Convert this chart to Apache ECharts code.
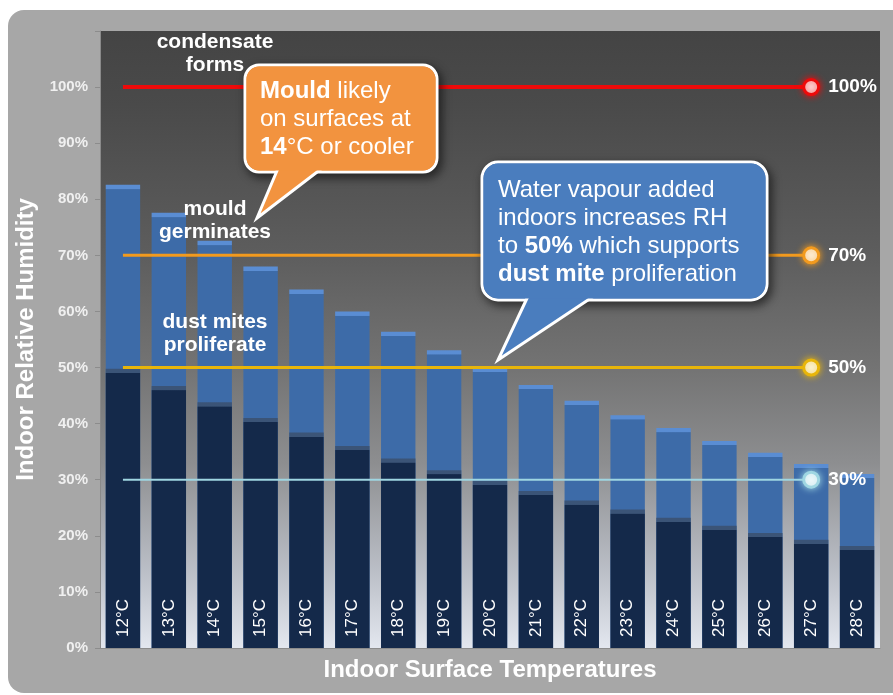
<!DOCTYPE html>
<html>
<head>
<meta charset="utf-8">
<script src="https://cdn.jsdelivr.net/npm/echarts/dist/echarts.min.js"></script>
<style>
html,body{margin:0;padding:0;background:#ffffff;}
#c{width:893px;height:695px;}
</style>
</head>
<body>
<div id="c"></div>
<script>
// ---------- data ----------
const categories = ['12°C','13°C','14°C','15°C','16°C','17°C','18°C','19°C','20°C','21°C','22°C','23°C','24°C','25°C','26°C','27°C','28°C'];
// surface RH when indoor air is at 50% RH (light bars, total height)
const rhIndoor50 = [82.6, 77.6, 72.6, 68.0, 63.9, 60.0, 56.4, 53.1, 50.0, 46.9, 44.1, 41.5, 39.2, 36.9, 34.8, 32.8, 31.0];
// surface RH when indoor air is at 30% RH (dark bars)
const rhIndoor30 = [49.8, 46.7, 43.8, 41.0, 38.4, 36.0, 33.8, 31.7, 29.8, 28.0, 26.3, 24.7, 23.2, 21.8, 20.5, 19.3, 18.2];
// threshold lines
const thresholdValues = [100, 70, 50, 30];
const thresholdStart = '12°C';
const thresholdEnd = '27°C';
const yTickValues = [0, 10, 20, 30, 40, 50, 60, 70, 80, 90, 100];

// ---------- styles ----------
const FONT = '"Liberation Sans", Arial, Helvetica, sans-serif';
const thresholdColors = ['#ee0a0a', '#f29a1e', '#e8b50a', '#9fd6e2'];
const thresholdWidths = [4, 3, 3, 2];
const PX_PER_UNIT = 5.61;

function capGradient(v, cap, main) {
  const f = Math.min(0.5, 4 / (v * PX_PER_UNIT));
  return new echarts.graphic.LinearGradient(0, 0, 0, 1, [
    {offset: 0, color: cap},
    {offset: f, color: cap},
    {offset: Math.min(1, f + 0.002), color: main},
    {offset: 1, color: main}
  ]);
}

const lightData = rhIndoor50.map(v => ({value: v, itemStyle: {color: capGradient(v, '#5a8dd3', '#3d6ba8')}}));
const darkData = rhIndoor30.map(v => ({value: v, itemStyle: {color: capGradient(v, '#3b5477', '#14294a')}}));

const lineSeries = thresholdValues.map((t, i) => ({
  type: 'line',
  data: [[thresholdStart, t], [thresholdEnd, t]],
  lineStyle: {color: thresholdColors[i], width: thresholdWidths[i]},
  symbol: 'circle',
  showAllSymbol: true,
  symbolSize: (val, p) => p.dataIndex === 1 ? 15 : 0,
  itemStyle: {color: '#ffffff', borderColor: thresholdColors[i], borderWidth: 3, shadowBlur: 7, shadowColor: thresholdColors[i]},
  label: {
    show: true,
    position: 'right',
    distance: 8,
    formatter: p => p.dataIndex === 1 ? p.value[1] + '%' : '',
    color: '#ffffff',
    fontWeight: 'bold',
    fontSize: 19,
    fontFamily: FONT
  },
  silent: true,
  z: 5
}));

function calloutShapes(box, tail, fill) {
  return [
    {type: 'rect', z: 100, silent: true,
     shape: {x: box.x, y: box.y, width: box.w, height: box.h, r: box.r},
     style: {fill: fill, stroke: '#ffffff', lineWidth: 3, shadowBlur: 10, shadowOffsetX: 3, shadowOffsetY: 4, shadowColor: 'rgba(0,0,0,0.55)'}},
    {type: 'polygon', z: 101, silent: true,
     shape: {points: tail},
     style: {fill: fill, stroke: '#ffffff', lineWidth: 3, lineJoin: 'miter'}},
    {type: 'rect', z: 102, silent: true,
     shape: {x: box.x + 1.5, y: box.y + 1.5, width: box.w - 3, height: box.h - 3, r: box.r - 1},
     style: {fill: fill}}
  ];
}

function annot(text, x, y) {
  return {type: 'text', z: 60, silent: true, x: x, y: y,
    style: {text: text, fill: '#ffffff', font: 'bold 21px ' + FONT,
      align: 'center', verticalAlign: 'middle', textAlign: 'center', textVerticalAlign: 'middle', lineHeight: 23}};
}

const richN = {font: '24px ' + FONT, fill: '#ffffff', lineHeight: 28};
const richB = {font: 'bold 24px ' + FONT, fill: '#ffffff', lineHeight: 28};

const chart = echarts.init(document.getElementById('c'), null, {renderer: 'canvas'});
chart.setOption({
  animation: false,
  backgroundColor: '#ffffff',
  textStyle: {fontFamily: FONT},
  grid: {
    left: 100, right: 13, top: 31, bottom: 47,
    show: true, borderWidth: 0,
    backgroundColor: new echarts.graphic.LinearGradient(0, 0, 0, 1, [
      {offset: 0, color: '#444444'},
      {offset: 0.12, color: '#4a4a4a'},
      {offset: 0.36, color: '#5d5d5d'},
      {offset: 0.55, color: '#747474'},
      {offset: 0.70, color: '#8d8e90'},
      {offset: 0.88, color: '#bcc0c8'},
      {offset: 1, color: '#e3e7ef'}
    ])
  },
  xAxis: {
    type: 'category',
    data: categories,
    axisLabel: {show: false},
    axisTick: {show: false},
    axisLine: {show: true, lineStyle: {color: '#8c8c8c', width: 1}},
    name: 'Indoor Surface Temperatures',
    nameLocation: 'middle',
    nameGap: 22,
    nameTextStyle: {color: '#ffffff', fontSize: 24, fontWeight: 'bold', fontFamily: FONT, verticalAlign: 'middle'}
  },
  yAxis: {
    type: 'value',
    min: 0, max: 110, interval: 10,
    splitLine: {show: false},
    axisLine: {show: true, lineStyle: {color: '#8a8a8a', width: 1}},
    axisTick: {show: true, length: 5, lineStyle: {color: '#8c8c8c'}},
    axisLabel: {
      margin: 12,
      color: '#f0f0f0',
      fontSize: 15,
      fontWeight: 'bold',
      fontFamily: FONT,
      formatter: v => yTickValues.indexOf(v) >= 0 ? v + '%' : ''
    },
    name: 'Indoor Relative Humidity',
    nameLocation: 'middle',
    nameGap: 68,
    nameTextStyle: {color: '#ffffff', fontSize: 24, fontWeight: 'bold', fontFamily: FONT, verticalAlign: 'middle'}
  },
  series: [
    {
      name: 'RH at 50% indoor',
      type: 'bar',
      data: lightData,
      barCategoryGap: '25%',
      barGap: '-100%',
      silent: true,
      z: 2
    },
    {
      name: 'RH at 30% indoor',
      type: 'bar',
      data: darkData,
      barCategoryGap: '25%',
      barGap: '-100%',
      silent: true,
      z: 3,
      label: {
        show: true,
        position: 'insideBottom',
        distance: 11,
        rotate: 90,
        align: 'left',
        verticalAlign: 'middle',
        formatter: '{b}',
        color: '#ffffff',
        fontSize: 17,
        fontFamily: FONT
      }
    }
  ].concat(lineSeries),
  graphic: [
    {type: 'rect', z: -100, silent: true, shape: {x: 8, y: 10, width: 920, height: 683, r: 16}, style: {fill: '#a7a7a7'}},
    annot('condensate\nforms', 215, 54),
    annot('mould\ngerminates', 215, 221),
    annot('dust mites\nproliferate', 215, 334)
  ]
  .concat(calloutShapes({x: 245, y: 65, w: 192, h: 107, r: 14}, [[279, 166], [257, 218], [325, 166]], '#f2933f'))
  .concat([{type: 'text', z: 110, silent: true, x: 260, y: 77,
    style: {text: '{b|Mould}{n| likely}\n{n|on surfaces at}\n{b|14}{n|°C or cooler}', rich: {n: richN, b: richB},
      align: 'left', verticalAlign: 'top', textAlign: 'left', textVerticalAlign: 'top'}}])
  .concat(calloutShapes({x: 482, y: 162, w: 285, h: 138, r: 16}, [[529, 294], [498, 360], [597, 294]], '#4a7dbe'))
  .concat([{type: 'text', z: 110, silent: true, x: 498, y: 176,
    style: {text: '{n|Water vapour added}\n{n|indoors increases RH}\n{n|to }{b|50%}{n| which supports}\n{b|dust mite}{n| proliferation}', rich: {n: richN, b: richB},
      align: 'left', verticalAlign: 'top', textAlign: 'left', textVerticalAlign: 'top'}}])
});
</script>
</body>
</html>
